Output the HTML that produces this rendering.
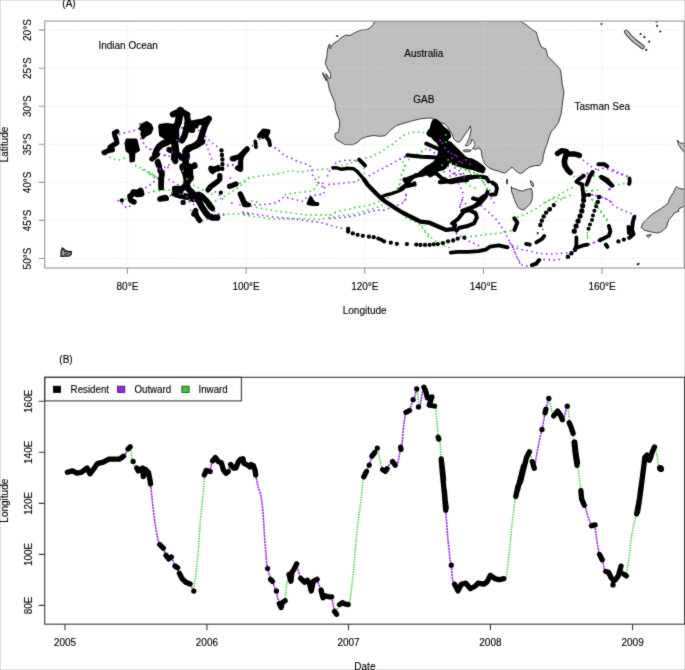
<!DOCTYPE html>
<html><head><meta charset="utf-8"><style>html,body{margin:0;padding:0;background:#fff;width:685px;height:670px;overflow:hidden}body{position:relative;font-family:"Liberation Sans",sans-serif}</style></head><body>
<svg width="685" height="670" viewBox="0 0 685 670" style="position:absolute;left:0;top:0">
<defs>
<filter id="bl" x="0" y="0" width="1" height="1" color-interpolation-filters="sRGB"><feConvolveMatrix order="3" kernelMatrix="0.02 0.08 0.02 0.08 0.6 0.08 0.02 0.08 0.02" divisor="1" edgeMode="duplicate" preserveAlpha="true"/></filter>
<clipPath id="ca"><rect x="44.7" y="21.1" width="639.5" height="246.9"/></clipPath>
<clipPath id="cb"><rect x="44.7" y="377.3" width="639.9" height="246.90000000000003"/></clipPath>
</defs>
<g filter="url(#bl)">
<rect width="685" height="670" fill="#fff"/>
<g clip-path="url(#ca)">
<path d="M626.3 31.8L629.5 36L634.5 40.8L642.6 47" stroke="#111" stroke-width="4.4" stroke-linecap="round" stroke-linejoin="round" fill="none"/>
<path d="M626.3 31.8L629.5 36L634.5 40.8L642.6 47" stroke="#bebebe" stroke-width="2.8" stroke-linecap="round" stroke-linejoin="round" fill="none"/>
<polygon points="62.3,248.0 61.2,251.0 61.0,256.4 66.0,256.1 68.9,256.1 71.4,253.9 71.1,251.3 68.9,251.7 66.0,251.0 63.4,248.8" fill="#9a9a9a" stroke="#111" stroke-width="1.3" stroke-linejoin="round"/>
<path d="M63 250L66.5 253.5L69 252.5M64 254L67 255" stroke="#222" stroke-width="0.9" fill="none"/>
<polygon points="374.6,15.0 374.6,21.1 373.4,24.3 369.9,28.1 366.4,29.6 360.5,30.2 355.3,32.5 350.0,35.4 345.9,35.1 341.9,37.2 337.2,41.3 333.5,43.4 331.4,46.0 330.4,48.7 329.8,47.4 330.1,44.7 329.1,44.4 328.1,47.4 327.4,50.1 327.1,53.4 326.7,57.5 325.7,60.8 325.4,63.5 326.4,66.2 328.1,69.6 329.8,72.3 330.8,74.9 330.4,78.3 329.1,78.6 326.1,73.6 325.8,75.5 327.5,80.5 328.4,84.7 329.6,90.2 332.5,97.2 334.9,103.0 335.4,108.9 337.2,114.7 339.5,120.5 339.5,126.4 338.4,132.2 335.4,133.4 334.9,136.9 336.6,139.8 341.9,142.7 344.2,144.5 352.4,144.8 357.0,142.7 361.7,138.6 366.4,136.7 373.4,135.5 380.4,136.3 385.1,135.7 388.6,132.2 390.9,129.8 396.7,125.4 404.0,123.2 411.3,121.1 420.0,118.9 427.3,118.1 431.7,118.1 436.1,121.1 440.5,122.5 444.9,124.0 447.8,126.9 449.2,129.8 452.2,134.2 453.6,138.6 456.5,141.5 459.5,142.2 462.0,139.0 465.2,134.0 468.1,130.3 470.3,126.0 471.1,129.6 469.6,136.9 466.7,143.5 465.2,145.7 468.1,145.7 471.1,142.7 471.8,139.1 474.0,141.3 474.7,145.7 472.5,148.6 476.2,149.3 479.1,147.8 481.3,150.8 482.0,155.9 484.2,163.2 488.6,167.6 493.0,169.7 498.8,171.2 504.3,173.3 506.9,171.7 509.9,168.7 512.2,167.2 514.4,169.5 517.4,172.1 520.4,173.6 523.4,172.1 526.3,169.5 529.3,167.2 534.6,165.7 539.7,165.4 542.6,161.7 543.3,155.9 544.8,150.0 547.0,144.2 549.2,136.9 551.4,131.1 554.9,127.9 558.5,122.5 561.2,113.6 562.1,106.4 563.0,99.2 563.9,92.1 562.1,83.1 561.2,74.1 560.3,69.7 556.7,65.2 553.1,61.6 550.4,58.9 547.7,56.2 545.9,49.0 541.5,47.3 538.8,41.0 537.0,34.7 536.1,32.0 531.6,29.3 526.2,24.9 520.8,21.3 520.8,15.0" fill="#bebebe" stroke="#111" stroke-width="0.8" stroke-linejoin="round"/>
<polygon points="463.0,150.6 466.0,149.6 471.5,150.2 469.0,151.8 464.0,151.7" fill="#bebebe" stroke="#111" stroke-width="0.8" stroke-linejoin="round"/>
<polygon points="511.4,186.6 511.4,188.1 514.4,188.5 518.9,190.4 522.6,191.1 526.3,189.6 531.6,188.5 532.3,191.9 532.3,198.6 530.8,203.1 528.6,205.7 526.3,207.5 524.1,210.1 520.4,209.0 518.1,207.5 515.9,203.1 514.4,199.3 512.9,194.9 511.4,191.1" fill="#bebebe" stroke="#111" stroke-width="0.8" stroke-linejoin="round"/>
<polygon points="677.0,186.4 678.7,188.2 682.3,189.1 690.0,189.1 690.0,203.4 678.7,208.8 678.7,211.5 675.2,212.4 670.7,217.8 668.9,219.6 666.2,227.6 660.8,232.1 657.2,233.0 651.9,232.1 644.7,230.3 641.1,227.6 642.9,223.1 646.5,219.6 651.9,214.2 660.8,208.8 668.0,203.4 669.8,198.1 673.4,192.7 675.2,188.2" fill="#bebebe" stroke="#111" stroke-width="0.8" stroke-linejoin="round"/>
<polygon points="646.3,235.2 651.5,234.6 648.2,237.6" fill="#bebebe" stroke="#111" stroke-width="0.8" stroke-linejoin="round"/>
<polygon points="677.1,140.2 680.1,142.9 690.0,144.7 690.0,153.0 684.3,152.5 681.3,148.9 678.9,145.3" fill="#bebebe" stroke="#111" stroke-width="0.8" stroke-linejoin="round"/>
<polygon points="506.6,179.3 507.6,179.6 507.6,183.6 506.6,183.8" fill="#bebebe" stroke="#111" stroke-width="0.8" stroke-linejoin="round"/>
<polygon points="530.2,180.8 532.0,181.6 533.6,184.4 533.4,186.6 532.0,186.0 530.8,183.0" fill="#bebebe" stroke="#111" stroke-width="0.8" stroke-linejoin="round"/>
<polygon points="323.0,72.6 324.7,76.3 326.7,80.3 326.2,80.8 324.0,77.2 322.5,73.2" fill="#bebebe" stroke="#111" stroke-width="0.8" stroke-linejoin="round"/>
<circle cx="640.6" cy="34" r="1.1" fill="#222"/>
<circle cx="644.4" cy="37.2" r="1.1" fill="#222"/>
<circle cx="649.2" cy="41.7" r="1.1" fill="#222"/>
<circle cx="646.3" cy="49.9" r="1.1" fill="#222"/>
<circle cx="657.1" cy="25.8" r="1.1" fill="#222"/>
<circle cx="660.3" cy="31.5" r="1.1" fill="#222"/>
<circle cx="656.5" cy="21.6" r="1.1" fill="#222"/>
<circle cx="601.5" cy="24.1" r="1.1" fill="#222"/>
<circle cx="337.2" cy="36.0" r="1.1" fill="#222"/>
<circle cx="638.6" cy="263.8" r="1.1" fill="#222"/>
<circle cx="637.8" cy="264.3" r="1.1" fill="#222"/>
<circle cx="537.7" cy="233.2" r="1.1" fill="#222"/>
<path d="M44.7 30.1H684.2M44.7 68.2H684.2M44.7 106.2H684.2M44.7 144.3H684.2M44.7 182.4H684.2M44.7 220.4H684.2M44.7 258.5H684.2M127.4 21.1V268.0M246.1 21.1V268.0M364.8 21.1V268.0M483.4 21.1V268.0M602.1 21.1V268.0" stroke="#dcdcdc" stroke-width="0.8" stroke-dasharray="1 1.6" fill="none"/>
<path d="M105.8 154.7L112.3 159.1L119.6 159.9L125.5 157.7M135.7 165.7L145.9 170.1L157.6 177.4M125.5 199.2L129.9 197.0M148.8 192.6L154.7 191.2L159.0 189.7L166.0 189.0M143.0 170.0L151.8 174.4L157.6 178.0M150.0 173.8L158.8 178.1L164.6 181.0M154.4 191.3L167.5 189.8L174.8 191.3M193.8 185.4L205.5 191.3L215.7 195.7M211.3 203.0L223.0 197.1L237.6 188.4L250.0 177.4M190.9 210.3L192.3 215.4M218.6 213.9L234.7 213.9L250.0 214.6M240.0 183.0L248.8 177.9L261.9 175.7L276.5 174.2L291.1 170.6L301.3 172.0L313.0 169.9L324.7 169.1L336.4 167.7L338.8 166.2L344.6 164.7L351.9 162.6L363.6 158.9L370.9 156.7L376.7 153.8L382.6 150.9L386.9 147.2L392.8 144.3L395.7 141.4L401.5 137.0L405.9 134.1L416.1 131.6L423.4 132.6M318.8 177.2L317.4 185.9M363.6 168.4L364.3 173.5M403.0 161.8L405.9 166.9L401.5 174.2L400.0 181.5L398.6 188.0M408.8 159.6L417.6 153.8L423.4 150.9L427.8 148.0M251.7 201.2L260.4 202.6M251.7 206.3L269.2 209.9L278.0 211.4L291.1 212.8L305.7 215.0L320.3 215.0L330.0 215.0L337.3 211.4L344.6 209.9L351.9 208.5L357.7 207.0L363.6 206.3L370.9 204.8L378.2 201.9L381.1 199.7L391.3 196.8M244.4 215.0L269.2 218.7L283.8 218.7L305.7 218.7L320.3 219.4L338.8 215.8L344.6 215.0L351.9 215.0L359.2 212.8L370.9 209.2L378.2 207.0L382.6 204.8M285.3 194.6L294.0 193.1L305.7 191.7L313.0 190.9L315.9 186.6L318.8 182.2M330.5 215.0L337.8 211.4M397.2 188.0L401.5 181.5M405.9 218.0L413.2 220.9L419.1 223.8L423.4 229.6L426.4 234.0L429.3 237.7M420.0 221.9L422.9 227.7L427.3 233.6L431.7 238.0L437.5 242.3L443.4 245.3L450.7 248.2M471.1 236.5L478.4 235.8L487.2 234.3L494.5 233.6L501.8 232.8L509.0 231.4L514.9 229.0M507.6 246.7L514.9 246.7L520.2 245.4M448.2 160.4L458.4 167.7L467.2 170.7L478.8 176.5L484.7 183.8L487.6 189.6M401.5 175.0L405.8 161.9M421.9 151.0L426.3 148.8M512.9 217.6L518.8 216.9L524.6 214.7L534.8 209.6L545.0 202.3L552.3 198.6L564.0 197.9M545.8 202.2L551.7 198.5L559.0 194.9L566.3 190.5L572.1 187.6M556.1 201.4L564.8 197.8L572.8 194.1M570.7 173.0L576.5 178.8M594.0 175.1L599.9 176.6M618.8 184.6L626.1 183.2M592.6 190.5L601.3 189.7M591.8 199.4L597.6 206.7L603.4 214.0L607.8 219.8L610.0 222.0M587.4 233.0L587.4 237.3L588.8 241.7M600.5 241.7L604.9 244.6M594.0 176.0L601.4 176.7M586.5 190.9L592.5 190.9M592.5 199.9L596.9 205.8L601.4 213.3L605.9 219.3L608.9 225.2M587.2 235.7L587.2 240.0M150.0 174.5L155.8 178.8M446.0 168.0L452.0 172.0L460.0 174.0L467.0 178.0M445.0 156.0L449.0 162.0M462.0 180.0L470.0 186.0L478.0 189.0" stroke="#32cd32" stroke-width="1.8" stroke-linecap="round" stroke-dasharray="0 5.0" fill="none"/>
<path d="M119.6 134.3L138.6 129.2L140.0 123.4M140.8 138.7L145.9 146.7L156.1 151.8L163.4 155.5L170.0 156.2M160.5 170.0L170.0 164.2L179.2 159.9M193.8 129.2L199.6 130.7M205.5 136.5L211.3 142.3L217.2 146.7L221.5 150.0M205.0 140.0L211.3 158.4L214.2 162.8M223.0 167.2L234.7 164.2M243.4 149.6L248.8 148.0L256.1 143.6L260.4 138.5M150.0 149.6L161.7 155.5M118.2 200.7L122.6 203.6L126.2 208.0L130.6 205.8M145.9 187.5L150.3 184.6L157.6 178.8L166.1 169.4L170.4 165.0M169.0 179.6L179.2 185.4M170.4 195.7L183.6 198.6L193.8 204.4M208.4 203.7L212.8 210.3L220.1 214.6L227.4 215.4M202.6 220.5L211.3 217.6M230.3 178.1L233.0 181.0M231.8 203.0L235.0 202.3M243.4 213.2L250.0 213.9M240.0 204.8L254.6 204.8L269.2 204.1L278.0 201.9L283.8 196.8L289.6 198.2L295.5 199.7L302.8 201.2L307.2 196.8L314.5 195.3L319.6 194.6L323.9 193.9L324.7 185.8L321.8 182.2M211.3 189.1L218.6 194.2L223.0 199.3M223.0 165.0L237.6 165.0M270.7 145.8L278.0 149.4L283.8 155.3L291.1 158.2L298.4 161.8L305.7 164.0L311.5 166.9L313.0 177.2L318.8 183.0L324.7 188.8M327.6 175.7L330.5 168.4L337.3 161.8L344.6 160.4L357.7 160.4M329.0 184.5L344.6 183.0L356.3 181.5L360.7 178.6M242.9 212.1L259.0 215.0L270.7 216.5L283.8 218.0L298.4 219.4L313.0 221.6L323.2 223.1L334.9 226.7L341.7 228.2M369.4 175.7L378.2 170.6L388.4 165.5L397.2 160.4L405.9 156.7M417.6 175.7L426.4 168.4M330.0 218.7L344.6 217.2L351.9 216.5L362.1 214.3L370.9 211.4L378.2 209.9L382.6 210.7L388.4 208.5L398.6 204.8L404.5 201.9L406.6 196.1L405.9 193.1M400.0 159.0L405.8 156.1M405.8 195.5L404.4 201.3M458.4 183.8L462.8 191.1L462.8 198.4L459.9 205.7L459.9 211.5M462.3 200.0L459.4 207.3M481.3 205.8L487.2 210.9L491.5 214.6L495.9 219.0L500.3 224.8L504.7 232.1L509.0 240.1L513.4 248.2L516.4 255.5L519.3 262.8L523.1 265.8M456.5 233.6L463.8 238.7L471.1 242.3L481.3 246.7M510.0 243.2L512.9 247.6L515.8 254.9L518.8 260.7L523.1 265.8L527.0 266.0M512.9 246.1L518.8 249.0L530.4 251.2L539.2 253.4L549.4 254.1L559.6 253.4L568.4 252.7M539.2 259.2L553.8 260.0L564.0 259.2M542.8 229.3L545.0 233.0M592.6 194.9L601.3 197.0L608.6 200.0L613.0 203.6M588.8 244.6L597.6 241.0L603.4 238.8M565.5 152.5L579.4 156.9L585.3 162.0L591.1 166.4L596.9 170.0M598.4 170.0L604.2 167.8L610.1 170.0L618.8 173.7L629.1 177.3M582.3 174.4L588.2 173.0M610.1 189.0L607.2 192.7M591.0 194.6L601.4 196.9L608.9 199.9L612.6 204.3L617.8 208.1L626.8 211.8L635.7 215.5M585.0 246.1L592.5 243.1L599.9 240.1M608.9 189.4L606.0 192.0M613.4 170.0L620.8 173.7L629.8 176.7M440.0 150.0L446.0 156.0L452.0 160.0L458.0 163.0L463.0 167.0M452.0 150.0L458.0 154.0L465.0 157.0M455.0 168.0L461.0 172.0L468.0 176.0M430.0 150.0L436.0 154.0M440.0 176.0L447.0 178.0M489.0 194.0L492.0 200.0L495.0 204.0M462.0 200.0L466.0 204.0M450.0 176.0L458.0 172.0" stroke="#a020f0" stroke-width="1.8" stroke-linecap="round" stroke-dasharray="0 5.0" fill="none"/>
<polygon points="127.0,140.0 136.0,140.0 137.5,146.0 138.5,150.0 134.0,152.5 133.5,160.5 131.0,161.0 130.5,153.0 127.0,150.5 126.0,143.0" fill="#000" stroke="#000" stroke-width="3" stroke-linejoin="round"/>
<polygon points="146.6,122.6 150.5,125.0 152.0,128.4 150.1,132.9 144.8,135.8 143.0,137.6 141.8,134.0 142.5,131.0 140.3,128.4 142.1,124.8" fill="#000" stroke="#000" stroke-width="3" stroke-linejoin="round"/>
<polygon points="434.8,120.1 437.4,121.4 440.0,124.0 442.7,127.5 446.2,130.1 448.8,132.8 449.7,136.3 447.9,138.0 446.2,139.8 447.0,141.5 450.5,143.3 454.0,146.8 457.6,150.3 461.1,153.8 464.7,157.5 468.8,159.5 472.9,160.5 477.0,162.6 481.1,165.7 484.2,168.7 483.1,171.8 479.0,170.8 473.9,168.7 467.8,167.7 460.7,165.7 453.5,163.6 448.4,160.5 447.4,164.6 443.3,168.7 438.2,169.7 434.1,173.8 430.0,175.9 426.0,173.0 428.0,167.0 434.0,163.0 438.0,158.0 440.0,150.0 440.0,146.0 437.4,141.5 434.8,139.8 432.2,136.3 429.5,135.4 427.8,133.6 428.6,131.9 431.3,128.4 432.2,124.0 433.9,120.5" fill="#000" stroke="#000" stroke-width="3" stroke-linejoin="round"/>
<path d="M104.0 152.6L108.1 150.8L112.5 149.9L109.8 147.2L114.3 144.5L117.0 142.8L116.1 139.2L114.8 135.6L114.3 132.9L117.0 131.6" stroke="#000" stroke-width="5.04" stroke-linecap="round" stroke-linejoin="round" fill="none"/>
<path d="M151.9 158.9L157.3 154.4M156.4 150.8L160.0 145.4M157.3 162.4L158.2 165.1M163.4 127.7L167.1 126.3L166.4 135.0L169.3 139.4M163.5 129.0L164.5 135.0L171.0 133.0L172.0 128.0M190.0 127.0L196.0 126.0M185.4 128.6L192.6 130.4M173.6 158.8L175.4 161.5M152.2 158.8L156.6 155.2M158.0 161.5L159.5 166.5M192.4 166.9L195.1 166.0M173.6 193.7L177.2 194.6M161.1 198.2L165.6 197.3M193.8 165.7L194.7 164.8M183.1 202.4L183.11 202.4M195.6 210.5L193.8 214.1M209.0 205.1L212.6 208.7M195.3 211.7L196.7 216.1L199.6 220.5M210.8 168.4L214.4 169.3L218.0 167.5M212.6 171.6L214.0 170.0M219.8 175.6L219.8 179.2L217.1 181.9L213.5 184.5L209.9 187.2L208.1 189.9M229.6 186.3L232.3 185.4L236.0 184.0M232.3 158.6L234.0 159.0M233.2 158.4L239.0 156.9L243.4 152.6L247.1 148.9M240.5 162.8L240.5 168.6M211.3 170.1L218.6 168.6M237.6 167.9L240.5 169.4M240.5 194.2L243.4 201.5L246.4 204.4M159.8 199.2L166.4 198.5" stroke="#000" stroke-width="5.25" stroke-linecap="round" stroke-linejoin="round" fill="none"/>
<path d="M172.9 114.3L180.5 111.0L187.2 114.8M187.2 117.0L188.1 122.4L186.3 129.5L184.5 135.8L181.9 140.3M161.3 126.9L166.6 126.0L172.9 126.9M162.2 134.0L167.5 137.6L172.9 138.5M161.3 126.9L162.2 134.0M187.2 123.3L193.5 123.3L198.0 122.4L203.3 121.5L208.7 118.8M208.7 118.8L205.1 125.1L203.3 130.4L201.6 135.8L199.8 141.2L196.2 144.8L192.6 146.6L188.1 148.3L185.4 151.0L185.4 154.6M186.6 155.0L185.7 162.2L184.8 168.4L185.7 174.7L186.6 180.1L186.6 184.5L188.4 189.0L192.9 193.5L196.5 198.0L199.2 201.6L201.9 206.9L205.4 212.3L208.0 215.5L212.0 217.5L217.2 217.6M175.0 189.0L180.4 189.0L177.7 194.4L184.0 196.2L189.3 197.1L192.9 198.9M133.5 192.5L137.5 193.0L140.5 190.8L141.3 193.8L137.0 194.0" stroke="#000" stroke-width="6.30" stroke-linecap="round" stroke-linejoin="round" fill="none"/>
<path d="M180.5 110.5L178.3 122.4L175.6 128.6L175.6 135.8L174.7 143.0L175.6 150.1L174.7 157.3M183.0 167.0L189.0 167.0L190.0 178.0" stroke="#000" stroke-width="7.35" stroke-linecap="round" stroke-linejoin="round" fill="none"/>
<path d="M155.0 153.7L158.6 146.6L163.1 143.0L168.4 141.2L173.6 140.9M156.6 149.8L161.1 145.4L167.4 142.7M169.2 149.8L174.5 151.6L179.0 155.2L181.7 157.9M160.2 170.4L162.0 174.0L161.1 179.4L161.1 187.4M187.1 150.7L191.6 147.2L196.9 145.4L202.3 141.8M187.1 156.1L185.3 161.5L186.2 166.9L183.5 170.4L186.2 175.8L190.7 177.6L188.0 182.1L184.4 186.6L180.8 190.1L179.0 195.5M198.3 194.4L201.9 196.2L205.4 199.8L207.2 201.6L211.3 207.3" stroke="#000" stroke-width="5.78" stroke-linecap="round" stroke-linejoin="round" fill="none"/>
<path d="M132.3 194.5L129.8 196.0L130.8 200.4L134.0 202.0" stroke="#000" stroke-width="5.46" stroke-linecap="round" stroke-linejoin="round" fill="none"/>
<path d="M259.0 136.3L263.4 130.4L268.5 131.2L266.3 137.0L269.2 140.7L269.9 145.0M310.8 198.2L308.6 203.4L313.0 204.1L317.4 204.1M359.2 159.6L365.0 165.5M407.3 155.3L421.9 156.8L436.5 157.5L443.8 157.5M426.3 143.6L438.0 148.8L443.8 151.7M404.5 180.1L411.8 177.2L417.6 175.7L423.4 172.8M405.9 185.9L414.7 184.5M400.0 189.6L407.3 183.8L411.7 178.0L416.1 175.0L421.9 175.0L429.2 172.1L436.5 173.6L442.3 178.7L451.1 182.3L458.4 180.9L467.2 180.1M404.4 179.4L407.3 183.8M427.7 167.7L435.0 164.8L442.3 163.4M452.1 223.4L458.0 219.0L463.8 211.7L469.6 210.2L475.5 213.1L476.9 217.5L474.0 223.4L466.7 226.3L459.4 227.7L456.5 230.7M462.3 210.9L469.6 208.0L475.5 205.8L479.9 203.6L482.8 200.0M473.0 198.4L478.8 199.9L484.7 195.5M473.0 207.2L480.3 201.3M514.4 218.4L517.3 222.7L514.4 230.0M472.3 167.3L477.0 168.5L482.8 169.7M470.0 177.8L475.8 176.7L481.7 176.7L486.4 177.8L488.7 181.4M492.2 182.5L495.7 184.9L496.9 188.4L495.7 194.2L491.0 194.8M487.5 191.9L486.4 195.4L484.0 198.9L480.5 202.4L478.2 204.7L474.7 206.5M473.5 198.3L477.0 199.5L480.5 200.6M451.1 151.7L461.3 157.5L470.0 161.9L475.9 163.4L483.2 169.2M464.4 159.4L471.4 160.5L474.9 164.0L473.7 167.6L479.6 168.7L483.1 169.3M470.0 166.3L474.5 168.5L478.8 169.2M420.0 173.4L424.7 169.9L427.0 167.6L434.0 166.4L441.0 164.0L446.9 161.7M598.4 164.2L604.2 164.2L607.2 166.4M583.8 175.9L579.4 178.8L576.5 181.7L579.4 183.2L582.3 184.6M592.6 172.2L589.6 177.3L586.7 184.6M582.3 186.1L583.1 193.4L583.8 200.7M601.3 177.3L607.2 181.7L611.5 185.4M608.9 226.0L610.4 231.2L608.9 235.7L602.9 238.7L599.9 240.1M634.3 217.0L632.8 222.2L632.0 229.7L633.5 234.2L630.5 236.8M605.9 244.6L607.4 246.9M526.1 243.9L529.7 244.6M531.9 265.1L536.3 263.6L539.2 260.0M628.5 227.0L629.0 233.0" stroke="#000" stroke-width="3.96" stroke-linecap="round" stroke-linejoin="round" fill="none"/>
<path d="M260.0 135.0L264.0 132.0L267.0 133.0L263.0 136.5M440.2 182.0L450.4 181.0L460.7 178.9L465.8 177.9L470.9 176.9" stroke="#000" stroke-width="4.73" stroke-linecap="round" stroke-linejoin="round" fill="none"/>
<path d="M255.3 141.4L256.0 147.2" stroke="#000" stroke-width="3.61" stroke-linecap="round" stroke-linejoin="round" fill="none"/>
<path d="M247.3 149.4L244.4 152.3L241.5 156.7L240.7 162.0L240.7 168.4M240.0 193.9L242.9 199.0L244.4 204.8L248.8 204.8" stroke="#000" stroke-width="4.83" stroke-linecap="round" stroke-linejoin="round" fill="none"/>
<path d="M311.0 200.0L313.5 203.0L310.0 203.0M363.9 179.3L367.4 184.5L372.0 189.2L376.7 193.9L381.4 198.5L386.0 202.0L390.7 205.0L396.6 209.0L402.4 212.5L407.0 214.9L414.7 218.7L420.5 221.6L428.8 222.6L437.5 226.3L446.3 229.9L453.6 229.2L455.0 224.8" stroke="#000" stroke-width="4.30" stroke-linecap="round" stroke-linejoin="round" fill="none"/>
<path d="M333.0 168.0L335.8 167.6L341.7 169.3L347.5 168.2L353.4 168.8L356.9 171.1L360.4 175.2L363.9 179.3" stroke="#000" stroke-width="3.44" stroke-linecap="round" stroke-linejoin="round" fill="none"/>
<path d="M380.2 197.4L386.0 195.0L390.7 193.9L397.7 191.5L402.4 189.2L404.7 186.9L410.0 185.7L414.7 182.9" stroke="#000" stroke-width="3.35" stroke-linecap="round" stroke-linejoin="round" fill="none"/>
<path d="M450.7 252.6L458.0 251.8L468.2 251.8L478.4 251.1L485.7 249.6L490.1 246.7L498.8 245.3L507.6 247.4M576.4 237.3L576.4 244.6L575.0 249.7M577.2 247.6L583.0 245.4L587.4 244.6M629.5 178.5L629.8 181.7L629.1 183.9M588.0 181.9L589.5 176.0L592.5 172.2M601.4 176.7L607.4 179.7L610.4 183.4L612.6 185.7M544.3 235.9L542.1 238.8L536.3 242.4" stroke="#000" stroke-width="3.78" stroke-linecap="round" stroke-linejoin="round" fill="none"/>
<path d="M557.5 153.5L561.9 150.6L566.3 151.3L567.7 154.0L575.0 154.0L579.4 155.4" stroke="#000" stroke-width="5.33" stroke-linecap="round" stroke-linejoin="round" fill="none"/>
<path d="M565.8 155.4L564.3 161.3L565.0 165.7L567.7 170.0L570.2 172.5" stroke="#000" stroke-width="5.59" stroke-linecap="round" stroke-linejoin="round" fill="none"/>
<path d="M584.5 195.0L583.0 203.8L581.5 212.5L578.6 219.8L575.7 227.1L573.5 233.7" stroke="#000" stroke-width="5.2" stroke-linecap="round" stroke-dasharray="0 5.4" fill="none"/>
<path d="M575.0 249.7L571.3 253.4L566.9 257.8" stroke="#000" stroke-width="4.6" stroke-linecap="round" stroke-dasharray="0 5.0" fill="none"/>
<path d="M549.4 209.4L544.7 214.0L541.2 222.2L540.1 225.7" stroke="#000" stroke-width="4.4" stroke-linecap="round" stroke-dasharray="0 4.6" fill="none"/>
<path d="M221.5 150.4L222.4 159.5L222.4 167.5L222.0 172.0" stroke="#000" stroke-width="4.4" stroke-linecap="round" stroke-dasharray="0 4.6" fill="none"/>
<path d="M599.0 197.2L597.6 202.3L595.4 208.1L593.2 214.0L591.8 221.3L588.8 226.4L588.3 231.0" stroke="#000" stroke-width="4.0" stroke-linecap="round" stroke-dasharray="0 4.8" fill="none"/>
<path d="M553.8 205.2L550.9 208.1L548.0 211.8" stroke="#000" stroke-width="4.2" stroke-linecap="round" stroke-dasharray="0 5.5" fill="none"/>
<circle cx="629.3" cy="237.8" r="2.15" fill="#000"/>
<circle cx="623.9" cy="239.6" r="2.15" fill="#000"/>
<circle cx="618.4" cy="241.4" r="2.15" fill="#000"/>
<circle cx="121.8" cy="200.4" r="2.15" fill="#000"/>
<circle cx="220.8" cy="192.7" r="2.15" fill="#000"/>
<circle cx="352.8" cy="233.4" r="2.15" fill="#000"/>
<circle cx="357.6" cy="234.8" r="2.15" fill="#000"/>
<circle cx="362.8" cy="235.8" r="2.15" fill="#000"/>
<circle cx="368.9" cy="236.7" r="2.15" fill="#000"/>
<circle cx="373.7" cy="237.2" r="2.15" fill="#000"/>
<circle cx="378.4" cy="238.6" r="2.15" fill="#000"/>
<circle cx="381.3" cy="239.8" r="2.15" fill="#000"/>
<circle cx="384.1" cy="241.4" r="2.15" fill="#000"/>
<circle cx="390.8" cy="242.7" r="2.15" fill="#000"/>
<circle cx="396.9" cy="243.8" r="2.15" fill="#000"/>
<circle cx="406.9" cy="244.1" r="2.15" fill="#000"/>
<circle cx="416.3" cy="244.6" r="2.15" fill="#000"/>
<circle cx="420.4" cy="244.9" r="2.15" fill="#000"/>
<circle cx="425" cy="244.9" r="2.15" fill="#000"/>
<circle cx="429.6" cy="244.9" r="2.15" fill="#000"/>
<circle cx="433.7" cy="244.3" r="2.15" fill="#000"/>
<circle cx="437.8" cy="244.1" r="2.15" fill="#000"/>
<circle cx="442.9" cy="243.1" r="2.15" fill="#000"/>
<circle cx="448" cy="241.3" r="2.15" fill="#000"/>
<circle cx="453.1" cy="240.5" r="2.15" fill="#000"/>
<circle cx="457.7" cy="238.7" r="2.15" fill="#000"/>
<circle cx="464.4" cy="237.7" r="2.15" fill="#000"/>
<circle cx="588.9" cy="194.9" r="2.15" fill="#000"/>
<circle cx="599.1" cy="197" r="2.15" fill="#000"/>
<circle cx="597.7" cy="202.2" r="2.15" fill="#000"/>
<circle cx="348.1" cy="228.8" r="2.15" fill="#000"/>
<circle cx="348.1" cy="231.6" r="2.15" fill="#000"/>
<circle cx="440.1" cy="140.5" r="1" fill="#a020f0"/>
<circle cx="442.6" cy="142.9" r="1" fill="#a020f0"/>
<circle cx="448.2" cy="151.8" r="1" fill="#a020f0"/>
<circle cx="451.4" cy="153.4" r="1" fill="#a020f0"/>
<circle cx="454.6" cy="155" r="1" fill="#a020f0"/>
<circle cx="457" cy="156.6" r="1" fill="#a020f0"/>
<circle cx="459.4" cy="161.4" r="1" fill="#a020f0"/>
<circle cx="461.8" cy="163" r="1" fill="#a020f0"/>
<circle cx="448.2" cy="166.2" r="1" fill="#a020f0"/>
<circle cx="449.8" cy="171.1" r="1" fill="#a020f0"/>
<circle cx="453" cy="173.5" r="1" fill="#a020f0"/>
<circle cx="456.2" cy="175.1" r="1" fill="#a020f0"/>
<circle cx="461" cy="174.3" r="1" fill="#a020f0"/>
<circle cx="464.2" cy="177.5" r="1" fill="#a020f0"/>
<circle cx="445" cy="148" r="1" fill="#a020f0"/>
<circle cx="452" cy="158" r="1" fill="#a020f0"/>
<circle cx="466" cy="160" r="1" fill="#a020f0"/>
<circle cx="470" cy="164" r="1" fill="#a020f0"/>
<circle cx="182" cy="128" r="1" fill="#a020f0"/>
<circle cx="177" cy="140" r="1" fill="#a020f0"/>
<circle cx="189" cy="159" r="1" fill="#a020f0"/>
<circle cx="172" cy="152" r="1" fill="#a020f0"/>
<circle cx="180" cy="194" r="1" fill="#a020f0"/>
<circle cx="187" cy="197" r="1" fill="#a020f0"/>
<circle cx="194" cy="200" r="1" fill="#a020f0"/>
<circle cx="160" cy="169" r="1" fill="#a020f0"/>
<circle cx="165" cy="155" r="1" fill="#a020f0"/>
<circle cx="445.8" cy="134.9" r="1" fill="#32cd32"/>
<circle cx="445.8" cy="142.1" r="1" fill="#32cd32"/>
<circle cx="448.2" cy="159.8" r="1" fill="#32cd32"/>
<circle cx="451.4" cy="163" r="1" fill="#32cd32"/>
<circle cx="456.2" cy="164.6" r="1" fill="#32cd32"/>
<circle cx="461" cy="167.8" r="1" fill="#32cd32"/>
<circle cx="465.8" cy="169.4" r="1" fill="#32cd32"/>
<circle cx="469" cy="171.1" r="1" fill="#32cd32"/>
<circle cx="473.9" cy="172.7" r="1" fill="#32cd32"/>
<circle cx="477.1" cy="174.3" r="1" fill="#32cd32"/>
<circle cx="480.3" cy="177.5" r="1" fill="#32cd32"/>
<circle cx="483.5" cy="182.3" r="1" fill="#32cd32"/>
<circle cx="486.7" cy="188.7" r="1" fill="#32cd32"/>
<circle cx="489.9" cy="190.3" r="1" fill="#32cd32"/>
<circle cx="442" cy="165" r="1" fill="#32cd32"/>
<circle cx="444" cy="172" r="1" fill="#32cd32"/>
<circle cx="183" cy="171" r="1" fill="#32cd32"/>
<circle cx="183" cy="182" r="1" fill="#32cd32"/>
<circle cx="187" cy="179" r="1" fill="#32cd32"/>
<circle cx="183" cy="194" r="1" fill="#32cd32"/>
<circle cx="189" cy="200" r="1" fill="#32cd32"/>
<circle cx="172" cy="193" r="1" fill="#32cd32"/>
</g>
<rect x="44.7" y="21.1" width="639.5" height="246.9" fill="none" stroke="#969696" stroke-width="1.1"/>
<path d="M38.7 30.1H44.7M38.7 68.2H44.7M38.7 106.2H44.7M38.7 144.3H44.7M38.7 182.4H44.7M38.7 220.4H44.7M38.7 258.5H44.7M127.4 268.0V274.0M246.1 268.0V274.0M364.8 268.0V274.0M483.4 268.0V274.0M602.1 268.0V274.0" stroke="#969696" stroke-width="1.1" fill="none"/>
<g font-family="Liberation Sans, sans-serif" font-size="10" fill="#000" stroke="#000" stroke-width="0.12" text-anchor="middle">
<text transform="translate(69.0 6.8) scale(1.0 1.0)">(A)</text>
<text transform="translate(127.4 289.5) scale(1.0 1.0)">80°E</text>
<text transform="translate(246.1 289.5) scale(1.0 1.0)">100°E</text>
<text transform="translate(364.8 289.5) scale(1.0 1.0)">120°E</text>
<text transform="translate(483.4 289.5) scale(1.0 1.0)">140°E</text>
<text transform="translate(602.1 289.5) scale(1.0 1.0)">160°E</text>
<text transform="translate(31.4 30.1) rotate(-90) scale(1.0 1.0)">20°S</text>
<text transform="translate(31.4 68.2) rotate(-90) scale(1.0 1.0)">25°S</text>
<text transform="translate(31.4 106.2) rotate(-90) scale(1.0 1.0)">30°S</text>
<text transform="translate(31.4 144.3) rotate(-90) scale(1.0 1.0)">35°S</text>
<text transform="translate(31.4 182.4) rotate(-90) scale(1.0 1.0)">40°S</text>
<text transform="translate(31.4 220.4) rotate(-90) scale(1.0 1.0)">45°S</text>
<text transform="translate(31.4 258.5) rotate(-90) scale(1.0 1.0)">50°S</text>
<text transform="translate(364.7 313.5) scale(1.0 1.0)">Longitude</text>
<text transform="translate(7.5 144.5) rotate(-90) scale(1.0 1.0)">Latitude</text>
<text transform="translate(128.15 49.2) scale(1.0 1.0)">Indian Ocean</text>
<text transform="translate(423.8 56.9) scale(1.0 1.0)">Australia</text>
<text transform="translate(423.9 102.5) scale(1.0 1.0)">GAB</text>
<text transform="translate(602.3 109.9) scale(1.0 1.0)">Tasman Sea</text>
</g>
<g clip-path="url(#cb)">
<path d="M123.6 456.3L125.1 454.8L128.0 449.0" stroke="#a020f0" stroke-width="1.55" stroke-dasharray="2.2 0.7" fill="none" stroke-linejoin="round"/>
<path d="M130.2 447.5L132.4 459.2L133.1 461.4L134.6 466.5L136.8 468.0" stroke="#32cd32" stroke-width="1.55" stroke-dasharray="1.3 1.2" fill="none" stroke-linejoin="round"/>
<path d="M150.6 484.0L152.1 498.6L153.3 510.0L154.6 521.0L156.8 533.8L158.8 542.7L159.7 544.5" stroke="#a020f0" stroke-width="1.55" stroke-dasharray="2.2 0.7" fill="none" stroke-linejoin="round"/>
<path d="M163.3 548.1L166.0 555.3" stroke="#a020f0" stroke-width="1.55" stroke-dasharray="2.2 0.7" fill="none" stroke-linejoin="round"/>
<path d="M171.4 557.1L175.0 566.0" stroke="#a020f0" stroke-width="1.55" stroke-dasharray="2.2 0.7" fill="none" stroke-linejoin="round"/>
<path d="M177.6 567.8L179.4 573.2" stroke="#a020f0" stroke-width="1.55" stroke-dasharray="2.2 0.7" fill="none" stroke-linejoin="round"/>
<path d="M190.2 583.9L193.8 591.1" stroke="#a020f0" stroke-width="1.55" stroke-dasharray="2.2 0.7" fill="none" stroke-linejoin="round"/>
<path d="M193.8 589.3L196.5 569.6L198.2 551.7L200.0 524.8L201.8 506.9L203.6 489.0L204.3 477.4L204.3 475.0" stroke="#32cd32" stroke-width="1.55" stroke-dasharray="1.3 1.2" fill="none" stroke-linejoin="round"/>
<path d="M210.2 471.5L211.4 464.5L212.5 461.0" stroke="#a020f0" stroke-width="1.55" stroke-dasharray="2.2 0.7" fill="none" stroke-linejoin="round"/>
<path d="M228.3 471.5L228.9 468.0L230.6 464.5" stroke="#a020f0" stroke-width="1.55" stroke-dasharray="2.2 0.7" fill="none" stroke-linejoin="round"/>
<path d="M255.7 475.0L258.1 486.7L260.4 493.7L261.6 499.6L262.8 509.4L264.7 538.5L266.7 563.8L267.6 568.6L268.5 572.0L270.5 579.3" stroke="#a020f0" stroke-width="1.55" stroke-dasharray="2.2 0.7" fill="none" stroke-linejoin="round"/>
<path d="M272.5 581.3L274.0 586.0L276.4 591.0L277.5 597.0L279.3 603.6" stroke="#a020f0" stroke-width="1.55" stroke-dasharray="2.2 0.7" fill="none" stroke-linejoin="round"/>
<path d="M285.1 600.7L286.5 585.0L289.0 574.5" stroke="#32cd32" stroke-width="1.55" stroke-dasharray="1.3 1.2" fill="none" stroke-linejoin="round"/>
<path d="M296.7 563.8L297.5 568.0L300.6 578.3" stroke="#a020f0" stroke-width="1.55" stroke-dasharray="2.2 0.7" fill="none" stroke-linejoin="round"/>
<path d="M317.1 579.3L319.0 585.0L321.0 590.0" stroke="#a020f0" stroke-width="1.55" stroke-dasharray="2.2 0.7" fill="none" stroke-linejoin="round"/>
<path d="M331.7 596.8L333.0 604.0L334.6 611.4" stroke="#a020f0" stroke-width="1.55" stroke-dasharray="2.2 0.7" fill="none" stroke-linejoin="round"/>
<path d="M336.6 614.3L338.0 606.0L339.5 604.6" stroke="#32cd32" stroke-width="1.55" stroke-dasharray="1.3 1.2" fill="none" stroke-linejoin="round"/>
<path d="M348.2 604.6L350.1 600.7L352.1 583.2L354.0 567.7L355.0 552.1L357.0 530.0L359.0 515.0L361.1 500.0L362.9 480.4L363.8 476.8" stroke="#32cd32" stroke-width="1.55" stroke-dasharray="1.3 1.2" fill="none" stroke-linejoin="round"/>
<path d="M366.5 471.4L369.2 465.1L371.9 456.2" stroke="#a020f0" stroke-width="1.55" stroke-dasharray="2.2 0.7" fill="none" stroke-linejoin="round"/>
<path d="M374.6 452.6L377.3 448.1" stroke="#a020f0" stroke-width="1.55" stroke-dasharray="2.2 0.7" fill="none" stroke-linejoin="round"/>
<path d="M377.3 448.1L381.7 467.8L382.6 469.6" stroke="#32cd32" stroke-width="1.55" stroke-dasharray="1.3 1.2" fill="none" stroke-linejoin="round"/>
<path d="M387.1 468.7L389.0 465.0L392.5 461.5" stroke="#a020f0" stroke-width="1.55" stroke-dasharray="2.2 0.7" fill="none" stroke-linejoin="round"/>
<path d="M395.2 465.1L397.9 462.4L400.0 452.0L400.6 447.2" stroke="#a020f0" stroke-width="1.55" stroke-dasharray="2.2 0.7" fill="none" stroke-linejoin="round"/>
<path d="M400.6 447.2L402.3 442.7L403.2 430.2L405.0 415.8L405.9 412.3" stroke="#a020f0" stroke-width="1.55" stroke-dasharray="2.2 0.7" fill="none" stroke-linejoin="round"/>
<path d="M409.5 410.5L413.1 399.7L414.9 396.1L416.7 389.0" stroke="#a020f0" stroke-width="1.55" stroke-dasharray="2.2 0.7" fill="none" stroke-linejoin="round"/>
<path d="M416.7 389.0L417.6 390.8L418.5 403.3L418.5 406.9" stroke="#32cd32" stroke-width="1.55" stroke-dasharray="1.3 1.2" fill="none" stroke-linejoin="round"/>
<path d="M418.5 406.9L420.3 405.1L423.0 389.0L423.9 387.2" stroke="#a020f0" stroke-width="1.55" stroke-dasharray="2.2 0.7" fill="none" stroke-linejoin="round"/>
<path d="M434.6 406.0L435.5 406.9L437.3 424.8L438.2 437.3" stroke="#32cd32" stroke-width="1.55" stroke-dasharray="1.3 1.2" fill="none" stroke-linejoin="round"/>
<path d="M438.8 439.0L440.0 440.9L440.9 457.1" stroke="#32cd32" stroke-width="1.55" stroke-dasharray="1.3 1.2" fill="none" stroke-linejoin="round"/>
<path d="M445.7 510.4L447.9 539.5L450.1 559.6L451.3 565.2L452.4 579.8L454.6 584.2" stroke="#a020f0" stroke-width="1.55" stroke-dasharray="2.2 0.7" fill="none" stroke-linejoin="round"/>
<path d="M503.8 578.6L506.1 577.5L508.3 561.9L510.5 539.5L512.8 517.1L513.9 510.0L514.9 498.4L515.8 496.5" stroke="#32cd32" stroke-width="1.55" stroke-dasharray="1.3 1.2" fill="none" stroke-linejoin="round"/>
<path d="M529.4 451.8L532.3 461.6" stroke="#32cd32" stroke-width="1.55" stroke-dasharray="1.3 1.2" fill="none" stroke-linejoin="round"/>
<path d="M534.3 468.3L537.2 451.8L541.1 432.4L542.0 429.5" stroke="#a020f0" stroke-width="1.55" stroke-dasharray="2.2 0.7" fill="none" stroke-linejoin="round"/>
<path d="M542.0 429.5L544.0 418.8L545.0 413.0" stroke="#a020f0" stroke-width="1.55" stroke-dasharray="2.2 0.7" fill="none" stroke-linejoin="round"/>
<path d="M545.9 409.1L546.9 405.2L548.8 398.4" stroke="#a020f0" stroke-width="1.55" stroke-dasharray="2.2 0.7" fill="none" stroke-linejoin="round"/>
<path d="M548.8 398.4L552.7 414.0L553.7 415.9" stroke="#32cd32" stroke-width="1.55" stroke-dasharray="1.3 1.2" fill="none" stroke-linejoin="round"/>
<path d="M562.4 419.8L564.4 416.9L566.3 408.2L567.3 406.2" stroke="#a020f0" stroke-width="1.55" stroke-dasharray="2.2 0.7" fill="none" stroke-linejoin="round"/>
<path d="M567.3 406.2L568.3 409.1L569.2 421.7" stroke="#32cd32" stroke-width="1.55" stroke-dasharray="1.3 1.2" fill="none" stroke-linejoin="round"/>
<path d="M573.1 433.4L574.1 442.1" stroke="#32cd32" stroke-width="1.55" stroke-dasharray="1.3 1.2" fill="none" stroke-linejoin="round"/>
<path d="M577.0 465.4L578.0 467.4L580.9 489.7" stroke="#32cd32" stroke-width="1.55" stroke-dasharray="1.3 1.2" fill="none" stroke-linejoin="round"/>
<path d="M584.3 505.2L585.2 506.1L587.9 516.8L590.6 523.1L591.5 525.8" stroke="#a020f0" stroke-width="1.55" stroke-dasharray="2.2 0.7" fill="none" stroke-linejoin="round"/>
<path d="M595.1 524.9L595.1 527.6L596.8 540.1L598.6 550.9L599.5 554.4" stroke="#a020f0" stroke-width="1.55" stroke-dasharray="2.2 0.7" fill="none" stroke-linejoin="round"/>
<path d="M602.2 559.8L603.1 561.6L604.0 568.7L605.8 571.4" stroke="#a020f0" stroke-width="1.55" stroke-dasharray="2.2 0.7" fill="none" stroke-linejoin="round"/>
<path d="M611.2 577.7L612.0 581.0L613.0 584.9" stroke="#a020f0" stroke-width="1.55" stroke-dasharray="2.2 0.7" fill="none" stroke-linejoin="round"/>
<path d="M621.0 566.1L622.0 570.0L623.7 574.1" stroke="#a020f0" stroke-width="1.55" stroke-dasharray="2.2 0.7" fill="none" stroke-linejoin="round"/>
<path d="M626.4 575.9L626.4 574.1L629.1 558.0L630.9 540.1L633.5 525.8L636.2 515.1L636.6 514.0" stroke="#32cd32" stroke-width="1.55" stroke-dasharray="1.3 1.2" fill="none" stroke-linejoin="round"/>
<path d="M654.5 446.9L655.2 448.4L657.5 457.3L658.2 464.8L659.7 467.8" stroke="#32cd32" stroke-width="1.55" stroke-dasharray="1.3 1.2" fill="none" stroke-linejoin="round"/>
<circle cx="660.6" cy="468.6" r="3.3" fill="#000"/>
<path d="M67.4 472.3L72.5 470.9L76.9 473.1L81.3 472.3L87.1 468.0L90.0 473.8L94.4 468.0L97.3 463.6L103.2 462.1L109.0 459.2L113.4 459.2L119.2 459.2L123.6 456.3M128.0 449.0L130.2 446.8M133.1 461.4L133.11 461.4M136.8 468.0L138.2 470.9L142.6 468.0L143.3 476.7L145.5 469.4L148.4 472.3L149.9 479.6L150.6 484.0M159.7 544.5L163.3 548.1M166.0 555.3L168.7 558.9L171.4 557.1M175.0 566.0L177.6 567.8M179.4 573.2L182.1 578.6L185.7 582.2L190.2 583.9M193.8 591.1L193.81 591.1M204.3 475.0L206.1 470.4L210.2 471.5M212.5 461.0L215.4 457.5L218.4 461.6L221.3 462.8L223.6 470.4L226.0 473.3L228.3 471.5M230.6 464.5L233.5 468.0L235.9 468.0L238.2 462.2L240.5 459.3L242.9 458.7L244.0 463.4L247.6 465.1L249.9 466.9L251.1 464.5L253.4 465.7L255.1 470.4L255.7 475.0M267.6 568.6L267.61 568.6M270.5 579.3L272.5 581.3M276.4 591.0L276.41 591.0M279.3 603.6L281.2 607.5L282.2 602.6L285.1 600.7M289.0 574.5L290.9 581.3L291.9 572.5L293.8 569.6L296.7 563.8M300.6 578.3L304.5 582.2L307.4 580.3L309.4 583.2L311.3 591.0L313.3 581.3L317.1 579.3M321.0 590.0L323.0 597.8L324.9 595.8L328.8 596.8L331.7 596.8M334.6 611.4L336.6 614.3M339.5 604.6L342.4 602.6L345.0 604.0L348.2 604.6M363.8 476.8L366.5 471.4M369.2 465.1L369.21 465.1M371.9 456.2L374.6 452.6M377.3 448.1L377.31 448.1M382.6 469.6L385.3 471.4L387.1 468.7M392.5 461.5L395.2 465.1M400.6 447.2L401.0 449.5M405.9 412.3L409.5 410.5M413.1 399.7L413.11 399.7M416.7 389.0L416.71 389.0M418.5 406.9L418.51 406.9M423.9 387.2L425.6 390.8L427.4 397.9L431.9 397.0L429.2 405.1L434.6 406.0M438.2 437.3L438.8 439.0M441.2 458.9L442.3 472.4L443.4 483.6L444.5 494.7L445.7 510.4M441.6 462.0L442.8 472.4L443.6 480.0M444.3 490.0L445.2 500.0L446.2 508.0M451.3 565.2L451.31 565.2M454.6 584.2L458.0 590.9L461.3 584.2L465.8 583.1L470.3 588.7L474.7 586.5L478.1 583.1L483.7 584.2L487.0 582.0L490.4 575.3L494.9 578.6L499.4 579.8L503.8 578.6M515.8 496.5L517.8 486.8L520.7 481.0L522.6 473.2L524.6 465.4L526.5 457.7L529.4 451.8M517.5 490.0L519.5 482.0L521.5 474.0L523.5 466.0M532.3 461.6L534.3 468.3M542.0 429.5L542.01 429.5M545.0 413.0L545.9 409.1M548.8 398.4L548.81 398.4M553.7 415.9L557.6 411.1L560.5 415.0L562.4 419.8M567.3 406.2L567.31 406.2M569.2 422.7L571.2 427.6L573.1 433.4M574.1 442.1L575.0 451.8L577.0 465.4M574.8 442.1L575.8 451.8L577.5 463.0M580.9 490.7L581.6 498.9L584.3 505.2M591.5 525.8L595.1 524.9M599.5 554.4L602.2 559.8M605.8 571.4L608.5 572.3L611.2 577.7M613.0 584.9L613.01 584.9M613.5 581.0L615.6 579.5L618.3 575.9L621.0 566.1M623.7 574.1L626.4 575.9M636.6 514.0L638.1 506.6L639.6 497.6L641.0 487.2L642.5 476.7L644.0 464.8L644.8 457.3L647.0 455.1L649.3 460.3L650.7 457.3L652.2 452.1L654.5 446.9M637.5 512.0L639.0 503.0L640.4 493.0L641.8 482.0L643.3 470.0L644.6 460.0L646.0 456.0M659.7 467.8L661.2 469.3M660.2 468.5L660.21 468.5" stroke="#000" stroke-width="5.3" stroke-linecap="round" stroke-linejoin="round" fill="none"/>
</g>
<rect x="44.7" y="377.3" width="196.7" height="23.599999999999966" fill="#fff" stroke="#3a3a3a" stroke-width="1.1"/>
<rect x="53.4" y="386.2" width="7.2" height="6.2" fill="#000" stroke="#000" stroke-width="0.8"/>
<rect x="117.6" y="386.2" width="7.2" height="6.2" fill="#a020f0" stroke="#222" stroke-width="0.8"/>
<rect x="181.9" y="386.2" width="7.2" height="6.2" fill="#32cd32" stroke="#222" stroke-width="0.8"/>
<rect x="44.7" y="377.3" width="639.9" height="246.90000000000003" fill="none" stroke="#3a3a3a" stroke-width="1.1"/>
<path d="M38.7 605.4H44.7M38.7 554.4H44.7M38.7 503.4H44.7M38.7 452.3H44.7M38.7 401.3H44.7M65.0 624.2V630.2M206.9 624.2V630.2M348.5 624.2V630.2M490.4 624.2V630.2M632.6 624.2V630.2" stroke="#3a3a3a" stroke-width="1.1" fill="none"/>
<g font-family="Liberation Sans, sans-serif" font-size="10" fill="#000" stroke="#000" stroke-width="0.12">
<text transform="translate(70.6 392.8) scale(0.975 1.0)">Resident</text>
<text transform="translate(134.4 392.8) scale(0.975 1.0)">Outward</text>
<text transform="translate(198.5 392.8) scale(0.975 1.0)">Inward</text>
</g>
<g font-family="Liberation Sans, sans-serif" font-size="10" fill="#000" stroke="#000" stroke-width="0.12" text-anchor="middle">
<text transform="translate(66.0 362.9) scale(1.0 1.0)">(B)</text>
<text transform="translate(31.8 605.4) rotate(-90) scale(1.0 1.0)">80E</text>
<text transform="translate(31.8 554.4) rotate(-90) scale(1.0 1.0)">100E</text>
<text transform="translate(31.8 503.4) rotate(-90) scale(1.0 1.0)">120E</text>
<text transform="translate(31.8 452.3) rotate(-90) scale(1.0 1.0)">140E</text>
<text transform="translate(31.8 401.3) rotate(-90) scale(1.0 1.0)">160E</text>
<text transform="translate(65.0 645.9) scale(1.0 1.0)">2005</text>
<text transform="translate(206.9 645.9) scale(1.0 1.0)">2006</text>
<text transform="translate(348.5 645.9) scale(1.0 1.0)">2007</text>
<text transform="translate(490.4 645.9) scale(1.0 1.0)">2008</text>
<text transform="translate(632.6 645.9) scale(1.0 1.0)">2009</text>
<text transform="translate(364.9 669.5) scale(1.0 1.0)">Date</text>
<text transform="translate(8.4 500.7) rotate(-90) scale(1.0 1.0)">Longitude</text>
</g>
</g>
</svg>
</body></html>
